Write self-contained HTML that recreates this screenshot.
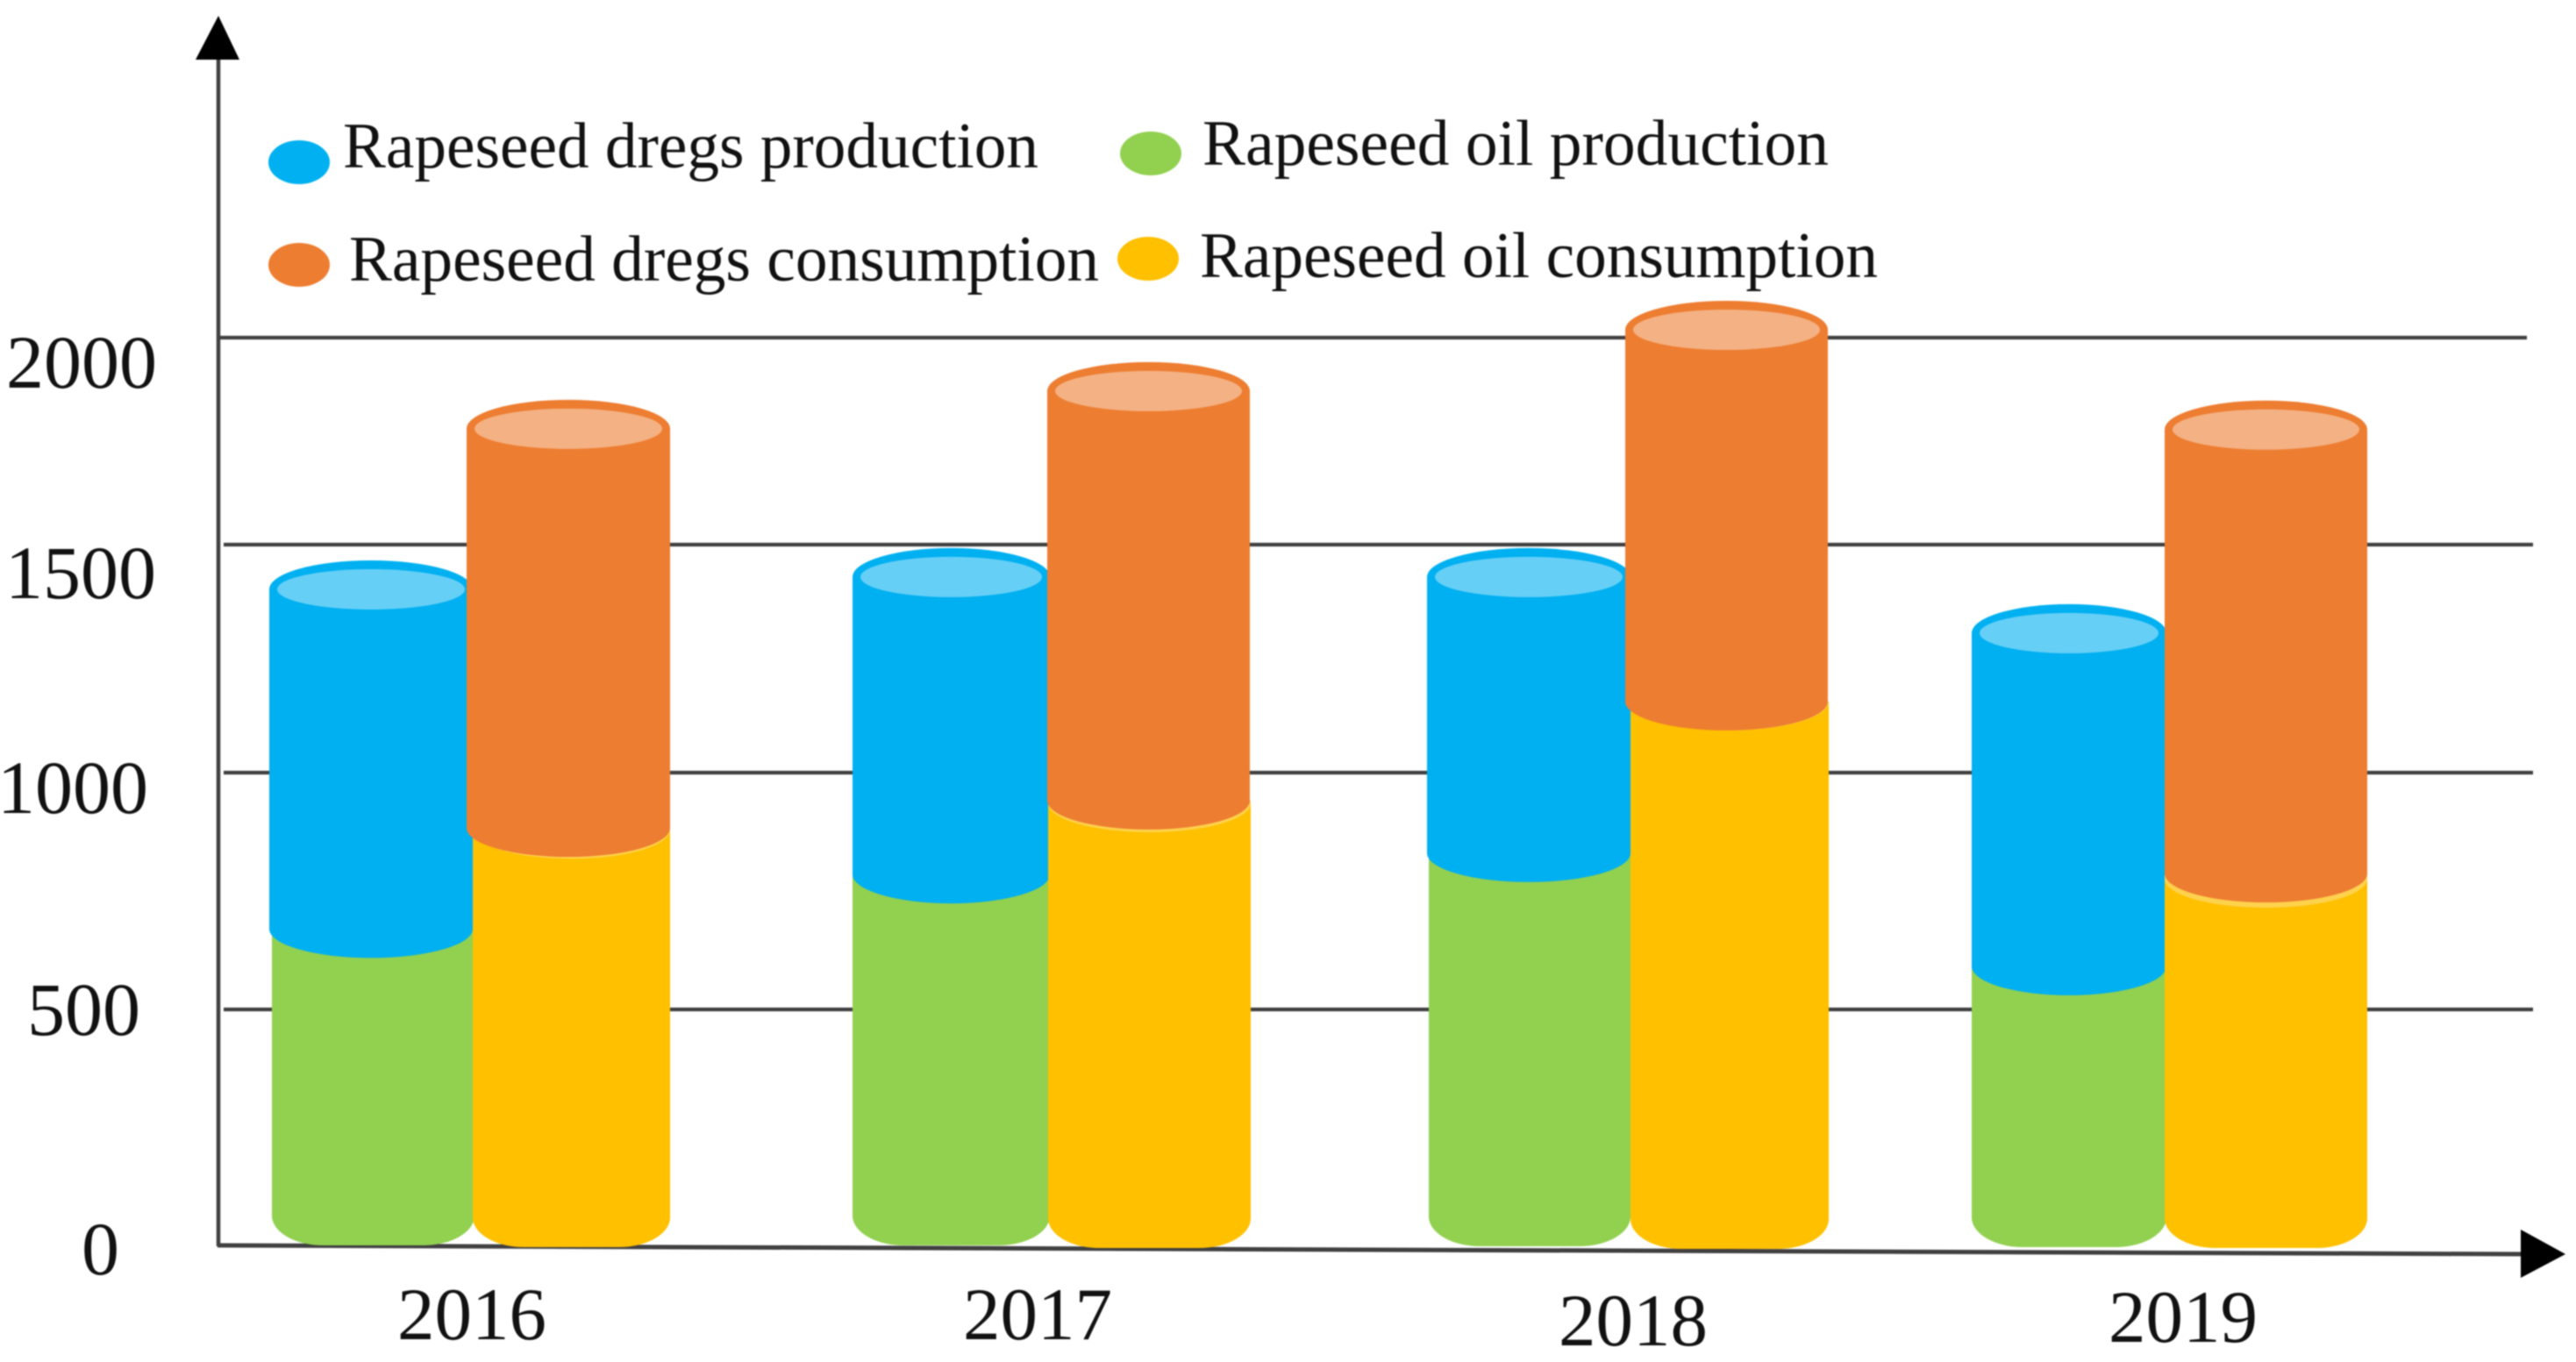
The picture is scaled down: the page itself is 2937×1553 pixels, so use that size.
<!DOCTYPE html>
<html lang="en">
<head>
<meta charset="utf-8">
<title>Rapeseed production and consumption, 2016-2019</title>
<style>
  html, body { margin: 0; padding: 0; background: #fff; width: 2937px; height: 1553px; overflow: hidden; }
  svg { display: block; filter: blur(0.9px); }
  text { font-family: "Liberation Serif", "Times New Roman", serif; fill: #111; }
</style>
</head>
<body>
<svg id="chart" xmlns="http://www.w3.org/2000/svg" width="2937" height="1553" viewBox="0 0 2937 1553">
  <rect x="0" y="0" width="2937" height="1553" fill="#fff"/>
  <g id="grid"></g>
  <line x1="249" y1="60" x2="249" y2="1421" stroke="#404040" stroke-width="4.5"/>
  <line x1="248" y1="1420" x2="2880" y2="1430" stroke="#404040" stroke-width="5"/>
  <polygon points="249,18 223,68 273,68" fill="#000"/>
  <polygon points="2925,1430 2874,1402 2874,1457" fill="#000"/>
  <g id="ticks"></g>
  <g id="bars"></g>
  <g id="cats"></g>

  <g>
    <g>
      <ellipse cx="341" cy="185" rx="35" ry="25" fill="#00B0F0"/>
      <text x="391" y="191" font-size="74" textLength="793" lengthAdjust="spacingAndGlyphs">Rapeseed dregs production</text>
    </g>
    <g>
      <ellipse cx="1312" cy="175" rx="35" ry="25" fill="#92D050"/>
      <text x="1371" y="188" font-size="74" textLength="714" lengthAdjust="spacingAndGlyphs">Rapeseed oil production</text>
    </g>
    <g>
      <ellipse cx="341" cy="302" rx="35" ry="25" fill="#ED7D31"/>
      <text x="398" y="320" font-size="74" textLength="855" lengthAdjust="spacingAndGlyphs">Rapeseed dregs consumption</text>
    </g>
    <g>
      <ellipse cx="1309" cy="295" rx="35" ry="25" fill="#FFC000"/>
      <text x="1368" y="316" font-size="74" textLength="773" lengthAdjust="spacingAndGlyphs">Rapeseed oil consumption</text>
    </g>
  </g>
</svg>

<script>
// Chart data
const categories = ["2016", "2017", "2018", "2019"];
const yTicks = [0, 500, 1000, 1500, 2000];
const oilProduction = [670, 785, 830, 591];
const dregsProduction = [732, 644, 599, 715];
const oilConsumption = [883, 941, 1156, 787];
const dregsConsumption = [897, 930, 863, 991];

const SVG_NS = "http://www.w3.org/2000/svg";

function make(parent, tag, attrs, text) {
  const el = document.createElementNS(SVG_NS, tag);
  for (const k in attrs) el.setAttribute(k, attrs[k]);
  if (text !== undefined) el.textContent = text;
  parent.appendChild(el);
  return el;
}

// Value axis: the hand-drawn source axis has unevenly spaced ticks, so it is piecewise linear.
function yScale(v) {
  const anchors = [1421, 1151, 881, 621, 385];
  const step = yTicks[1] - yTicks[0];
  const seg = Math.max(0, Math.min(anchors.length - 2, Math.floor(v / step)));
  return anchors[seg] + (v - yTicks[seg]) / step * (anchors[seg + 1] - anchors[seg]);
}

// Category axis: horizontal extents and small hand-drawn offsets of each cylinder in a group.
function xBand(i) {
  const layout = [
    { g: [310, 541],  b: [307, 539],  y: [539, 764],  o: [532, 764],  gDrop: -1, yDrop: 1, rim: 2 },
    { g: [972, 1197], b: [972, 1197], y: [1195, 1426], o: [1194, 1425], gDrop: -1, yDrop: 2, rim: 3 },
    { g: [1629, 1859], b: [1627, 1859], y: [1859, 2085], o: [1853, 2084], gDrop: 0, yDrop: 3, rim: 0 },
    { g: [2248, 2470], b: [2248, 2470], y: [2468, 2699], o: [2468, 2699], gDrop: 1, yDrop: 2, rim: 6 }
  ];
  return layout[i];
}

function categoryLabelPos(i) {
  const layout = [
    { x: 453, y: 1527 }, { x: 1098, y: 1527 }, { x: 1777, y: 1534 }, { x: 2404, y: 1530 }
  ];
  return layout[i];
}

function tickLabelPos(i) {
  const layout = [
    { x: 136, y: 1453 }, { x: 160, y: 1180 }, { x: 169, y: 927 }, { x: 178, y: 682 }, { x: 179, y: 442 }
  ];
  return layout[i];
}

function gridExtent(i) {
  const layout = [null, [255, 2888], [255, 2888], [255, 2888], [249, 2881]];
  return layout[i];
}

const RY = 33;

function flatBottomBody(x0, x1, yTop, yBot) {
  const cx = 58, cy = 34;
  return "M" + x0 + " " + yTop + " V" + (yBot - cy) +
    " C" + x0 + " " + (yBot - cy * 0.45) + " " + (x0 + cx * 0.45) + " " + yBot + " " + (x0 + cx) + " " + yBot +
    " H" + (x1 - cx) +
    " C" + (x1 - cx * 0.45) + " " + yBot + " " + x1 + " " + (yBot - cy * 0.45) + " " + x1 + " " + (yBot - cy) +
    " V" + yTop + " Z";
}

function roundBottomBody(x0, x1, yTop, yBot) {
  const rx = (x1 - x0) / 2;
  return "M" + x0 + " " + yTop + " V" + yBot +
    " A" + rx + " " + RY + " 0 0 0 " + x1 + " " + yBot +
    " V" + yTop + " Z";
}

// Gridlines and y tick labels
const gridG = document.getElementById("grid");
const ticksG = document.getElementById("ticks");
yTicks.forEach(function (t, i) {
  const ext = gridExtent(i);
  if (ext) {
    const line = make(gridG, "line", { x1: ext[0], x2: ext[1], y1: yScale(t), y2: yScale(t), stroke: "#404040", "stroke-width": 4.2 });
    
    
  }
  const pos = tickLabelPos(i);
  const label = make(ticksG, "text", { x: pos.x, y: pos.y, "text-anchor": "end", "font-size": 86 }, String(t));
  
  
});

// Cylinders
const barsG = document.getElementById("bars");
categories.forEach(function (cat, i) {
  const band = xBand(i);
  const group = make(barsG, "g", {});
  
  

  const oilTop = oilProduction[i];
  const prodTop = oilProduction[i] + dregsProduction[i];
  const consOilTop = oilConsumption[i];
  const consTop = oilConsumption[i] + dregsConsumption[i];

  // Oil production (green, base of left stack)
  const green = make(group, "path", { d: flatBottomBody(band.g[0], band.g[1], yScale(oilTop), yScale(0) + band.gDrop), fill: "#92D050" });
  
  

  // Dregs production (blue, top of left stack)
  const bTopY = yScale(prodTop);
  const bBotY = yScale(oilTop);
  const bCx = (band.b[0] + band.b[1]) / 2;
  const bRx = (band.b[1] - band.b[0]) / 2;
  const blue = make(group, "path", { d: roundBottomBody(band.b[0], band.b[1], bTopY, bBotY), fill: "#00B0F0" });
  
  
  const blueCap = make(group, "ellipse", { cx: bCx, cy: bTopY, rx: bRx, ry: RY, fill: "#00B0F0" });
  
  
  const blueTop = make(group, "ellipse", { cx: bCx, cy: bTopY, rx: bRx - 9, ry: 23, fill: "#66CFF6" });
  
  

  // Oil consumption (yellow, base of right stack)
  const yellow = make(group, "path", { d: flatBottomBody(band.y[0], band.y[1], yScale(consOilTop), yScale(0) + band.yDrop), fill: "#FFC000" });
  
  

  // Dregs consumption (orange, top of right stack)
  const oTopY = yScale(consTop);
  const oBotY = yScale(consOilTop);
  const oCx = (band.o[0] + band.o[1]) / 2;
  const oRx = (band.o[1] - band.o[0]) / 2;
  const rim = make(group, "path", { d: roundBottomBody(band.y[0], band.y[1], oBotY, oBotY + band.rim), fill: "#FFD24D" });
  
  
  const orange = make(group, "path", { d: roundBottomBody(band.o[0], band.o[1], oTopY, oBotY), fill: "#ED7D31" });
  
  
  const orangeCap = make(group, "ellipse", { cx: oCx, cy: oTopY, rx: oRx, ry: RY, fill: "#ED7D31" });
  
  
  const orangeTop = make(group, "ellipse", { cx: oCx, cy: oTopY, rx: oRx - 9, ry: 23, fill: "#F4B183" });
  
  
});

// Category labels
const catsG = document.getElementById("cats");
categories.forEach(function (cat, i) {
  const pos = categoryLabelPos(i);
  const label = make(catsG, "text", { x: pos.x, y: pos.y, "font-size": 85 }, cat);
  
  
});
</script>
</body>
</html>
